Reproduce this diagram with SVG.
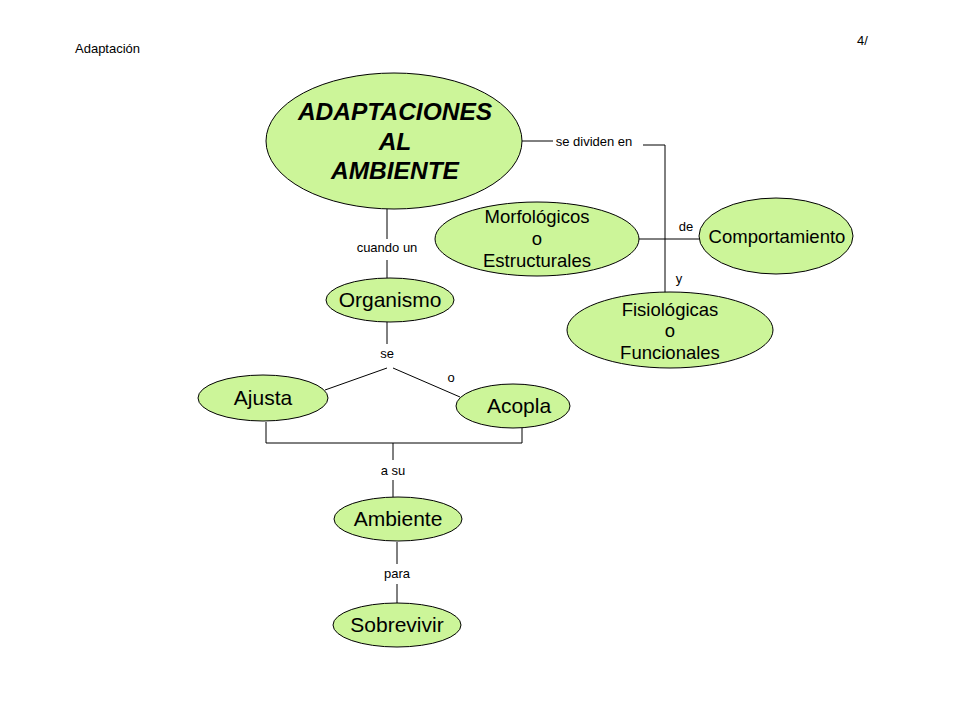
<svg xmlns="http://www.w3.org/2000/svg" width="960" height="720" viewBox="0 0 960 720">
<style>
.n{fill:#ccf599;stroke:#000;stroke-width:1}
.t{font-family:"Liberation Sans",Arial,sans-serif;fill:#000;text-anchor:middle}
.big{font-size:24.5px;font-weight:bold;font-style:italic}
.m{font-size:18.5px}
.l{font-size:21px}
.s{font-size:13px}
.c{fill:none;stroke:#000;stroke-width:1}
</style>
<rect width="960" height="720" fill="#fff"/>
<text x="75" y="53" font-family="Liberation Sans,Arial,sans-serif" font-size="13">Adaptación</text>
<text x="857" y="45" font-family="Liberation Sans,Arial,sans-serif" font-size="13">4/</text>
<g id="connectors">
<path class="c" d="M522,141 H553"/>
<path class="c" d="M643,145 H665 V297"/>
<path class="c" d="M639,239 H700"/>
<path class="c" d="M387,209 V239 M387,260 V278"/>
<path class="c" d="M387,322 V344"/>
<path class="c" d="M325,390 L387,368 M393,368 L460,397"/>
<path class="c" d="M266,422 V443 H522 V428 M393,443 V460 M393,480 V497"/>
<path class="c" d="M397,542 V564 M397,584 V603"/>
<text class="t s" x="594" y="146">se dividen en</text>
<text class="t s" x="686" y="231">de</text>
<text class="t s" x="679" y="283">y</text>
<text class="t s" x="387" y="252">cuando un</text>
<text class="t s" x="387" y="358">se</text>
<text class="t s" x="451" y="382">o</text>
<text class="t s" x="393" y="475">a su</text>
<text class="t s" x="397" y="578">para</text>
</g>
<g id="adaptaciones">
<ellipse class="n" cx="394" cy="141" rx="128" ry="68"/>
<text class="t big" x="395" y="120">ADAPTACIONES</text>
<text class="t big" x="395" y="150">AL</text>
<text class="t big" x="395" y="179">AMBIENTE</text>
</g>
<g id="morfologicos">
<ellipse class="n" cx="537" cy="239" rx="102" ry="37"/>
<text class="t m" x="537" y="223">Morfológicos</text>
<text class="t m" x="537" y="245">o</text>
<text class="t m" x="537" y="267">Estructurales</text>
</g>
<g id="comportamiento">
<ellipse class="n" cx="776" cy="236" rx="77" ry="38"/>
<text class="t m" x="777" y="243">Comportamiento</text>
</g>
<g id="fisiologicas">
<ellipse class="n" cx="670" cy="330" rx="103" ry="38"/>
<text class="t m" x="670" y="316">Fisiológicas</text>
<text class="t m" x="670" y="337">o</text>
<text class="t m" x="670" y="359">Funcionales</text>
</g>
<g id="organismo">
<ellipse class="n" cx="390" cy="300" rx="64" ry="22"/>
<text class="t l" x="390" y="307">Organismo</text>
</g>
<g id="ajusta">
<ellipse class="n" cx="263" cy="398" rx="65" ry="23"/>
<text class="t l" x="263" y="405">Ajusta</text>
</g>
<g id="acopla">
<ellipse class="n" cx="513" cy="406" rx="57" ry="22"/>
<text class="t l" x="519" y="413">Acopla</text>
</g>
<g id="ambiente">
<ellipse class="n" cx="398" cy="519" rx="64" ry="22"/>
<text class="t l" x="398" y="526">Ambiente</text>
</g>
<g id="sobrevivir">
<ellipse class="n" cx="397" cy="625" rx="64" ry="22"/>
<text class="t l" x="397" y="632">Sobrevivir</text>
</g>
</svg>
